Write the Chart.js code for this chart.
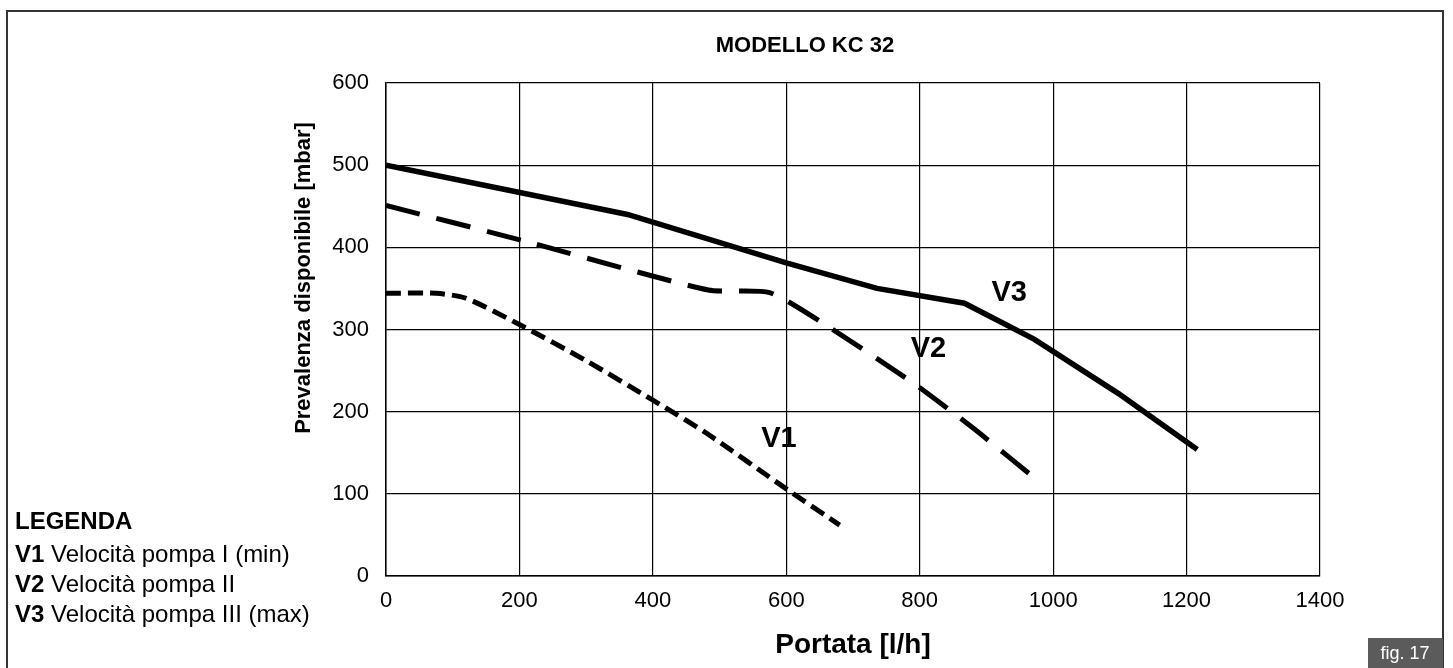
<!DOCTYPE html>
<html>
<head>
<meta charset="utf-8">
<title>Modello KC 32</title>
<script src="https://cdn.jsdelivr.net/npm/chart.js@4.4.1/dist/chart.umd.min.js"></script>
<style>
  html, body { margin: 0; padding: 0; background: #fff; }
  #wrap { width: 1453px; height: 668px; }
</style>
</head>
<body>
<div id="wrap"><canvas id="curve" width="1453" height="668"></canvas></div>
<script>
// portata [l/h] / prevalenza [mbar]
const v1Flow = [0, 75, 120, 200, 300, 400, 480, 600, 680];
const v1Head = [344, 344, 338, 306, 262, 214, 174, 106, 62];

const v2Flow = [0, 206, 483, 575, 660, 790, 880, 980];
const v2Head = [451, 408, 348, 345, 305, 235, 180, 114];

const v3Flow = [0, 362, 600, 736, 867, 972, 1098, 1216];
const v3Head = [500, 440, 381, 350, 332, 288, 222, 154];

const seriesNames = ["V1", "V2", "V3"];
const legendLines = ["Velocità pompa I (min)", "Velocità pompa II", "Velocità pompa III (max)"];

const FONT = "'Liberation Sans', Arial, Helvetica, sans-serif";

function pts(xs, ys) {
  return xs.map((x, i) => ({ x: x, y: ys[i] }));
}

// extra text: title, axis title, curve names, legend, frame, fig. box
const decor = {
  id: "decor",
  afterDraw(chart) {
    const c = chart.ctx;
    const xs = chart.scales.x, ys = chart.scales.y;
    c.save();

    // outer frame
    c.strokeStyle = "#333";
    c.lineWidth = 2;
    c.strokeRect(7, 11, 1436, 680);

    c.fillStyle = "#000";
    c.textAlign = "center";
    c.textBaseline = "middle";
    c.font = "bold 22px " + FONT;
    c.fillText("MODELLO KC 32", 805, 46);

    // y title
    c.save();
    c.translate(304, 278);
    c.rotate(-Math.PI / 2);
    c.font = "bold 22px " + FONT;
    c.fillText("Prevalenza disponibile [mbar]", 0, 0);
    c.restore();

    // curve names
    c.font = "bold 29px " + FONT;
    const tags = [[589, 167], [813, 276], [934, 344]];
    tags.forEach((t, i) => {
      c.fillText(seriesNames[i], xs.getPixelForValue(t[0]), ys.getPixelForValue(t[1]));
    });

    // legend block
    c.textAlign = "left";
    c.font = "bold 24px " + FONT;
    c.fillText("LEGENDA", 15, 522);
    legendLines.forEach((txt, i) => {
      const y = 555 + i * 30;
      c.font = "bold 24px " + FONT;
      c.fillText(seriesNames[i], 15, y);
      const w = c.measureText(seriesNames[i] + " ").width;
      c.font = "24px " + FONT;
      c.fillText(txt, 15 + w, y);
    });

    // fig. 17 box
    c.fillStyle = "#5b5b5b";
    c.fillRect(1368, 638, 75, 32);
    c.fillStyle = "#fff";
    c.textAlign = "center";
    c.font = "18px " + FONT;
    c.fillText("fig. 17", 1405, 654);

    c.restore();
  }
};

const ctx = document.getElementById("curve").getContext("2d");
new Chart(ctx, {
  type: "line",
  data: {
    datasets: [
      {
        label: "V1",
        data: pts(v1Flow, v1Head),
        borderColor: "#000",
        borderWidth: 5,
        borderDash: [15, 7],
        borderCapStyle: "butt",
        pointRadius: 0,
        tension: 0.25,
        fill: false,
      },
      {
        label: "V2",
        data: pts(v2Flow, v2Head),
        borderColor: "#000",
        borderWidth: 5,
        borderDash: [35, 17],
        borderCapStyle: "butt",
        pointRadius: 0,
        tension: 0.2,
        fill: false,
      },
      {
        label: "V3",
        data: pts(v3Flow, v3Head),
        borderColor: "#000",
        borderWidth: 5.5,
        pointRadius: 0,
        tension: 0,
        fill: false,
      },
    ],
  },
  options: {
    responsive: false,
    animation: false,
    devicePixelRatio: 1,
    layout: { padding: { left: 0, right: 133, top: 83, bottom: 0 } },
    plugins: { legend: { display: false }, tooltip: { enabled: false }, title: { display: false } },
    scales: {
      x: {
        type: "linear",
        min: 0,
        max: 1400,
        ticks: {
          stepSize: 200,
          color: "#000",
          padding: 12,
          font: { family: FONT, size: 22 },
          callback: (v) => String(v),
        },
        grid: { color: "#000", lineWidth: 1.2, drawTicks: false },
        border: { color: "#000", width: 1.5 },
        title: {
          display: true,
          text: "Portata [l/h]",
          color: "#000",
          font: { family: FONT, size: 28, weight: "bold" },
          padding: { top: 0, bottom: 6 },
        },
        afterFit(scale) { scale.height = 92; },
      },
      y: {
        min: 0,
        max: 600,
        ticks: {
          stepSize: 100,
          color: "#000",
          padding: 17,
          font: { family: FONT, size: 22 },
          callback: (v) => String(v),
        },
        grid: { color: "#000", lineWidth: 1.2, drawTicks: false },
        border: { color: "#000", width: 1.5 },
        afterFit(scale) { scale.width = 386; },
      },
    },
  },
  plugins: [decor],
});
</script>
</body>
</html>
